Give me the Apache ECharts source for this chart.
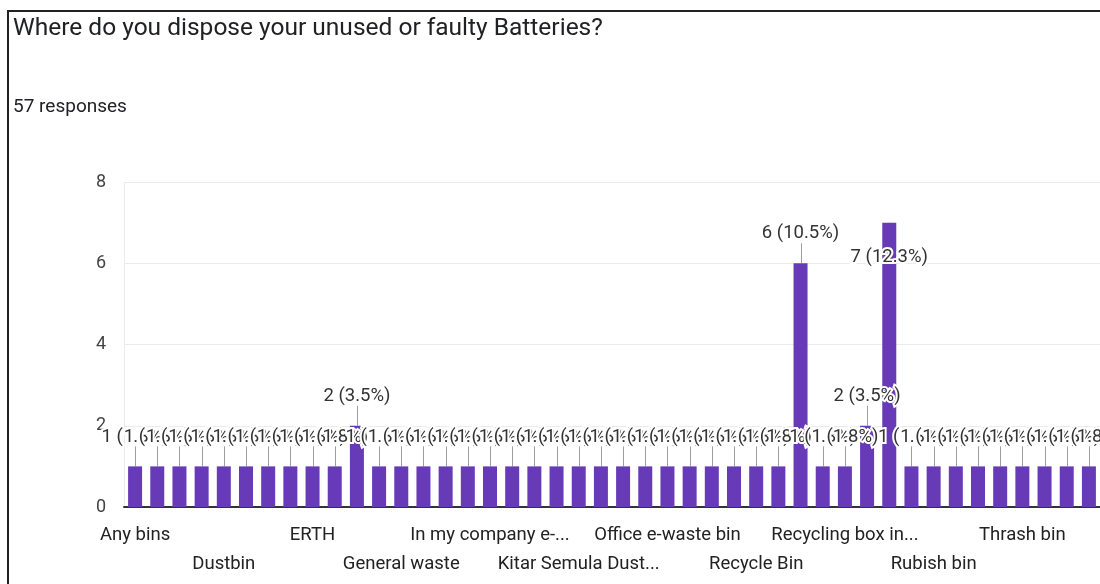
<!DOCTYPE html>
<html>
<head>
<meta charset="utf-8">
<script src="https://cdn.jsdelivr.net/npm/echarts@6/dist/echarts.min.js"></script>
<style>
html,body{margin:0;padding:0;background:#fff;}
#chart{width:1100px;height:584px;}
</style>
</head>
<body>
<div id="chart"></div>
<script>
const TITLE = 'Where do you dispose your unused or faulty Batteries?';
const SUBTITLE = '57 responses';
const TOTAL = 57;

const categories = [
  'Any bins', 'At home', 'Battery collection box', 'Bin',
  'Dustbin', 'Dustbin at home', 'E-waste bin', 'E-waste collection',
  'ERTH', 'Garbage', 'General bin', 'General rubbish',
  'General waste', 'Home', 'Home bin', 'House bin',
  'In my company e-...', 'In the bin', 'Keep at home', 'Kitar semula',
  'Kitar Semula Dust...', 'Normal bin', 'Normal dustbin', 'Not sure',
  'Office e-waste bin', 'Office recycle bin', 'Public bin', 'Recycle',
  'Recycle Bin', 'Recycle centre', 'Recycling bin', 'Recycling bin at...',
  'Recycling box in...', 'Recycling centre', 'Rubbish bin', 'Rubbish bin at home',
  'Rubish bin', 'Sampah', 'Store at home', 'Thrash',
  'Thrash bin', 'Trash bin', 'Trash can', 'Waste bin'
];

const counts = [
  1, 1, 1, 1,
  1, 1, 1, 1,
  1, 1, 2, 1,
  1, 1, 1, 1,
  1, 1, 1, 1,
  1, 1, 1, 1,
  1, 1, 1, 1,
  1, 1, 6, 1,
  1, 2, 7, 1,
  1, 1, 1, 1,
  1, 1, 1, 1
];

const yTicks = [0, 2, 4, 6, 8];

// label of this bar sits inside the bar (collision avoidance in the source)
const LABEL_INSIDE_INDEX = 34;

const FONT = 'Roboto, "Noto Sans", sans-serif';
const PURPLE = '#673ab7';

function labelText(v) {
  return v + ' (' + (v / TOTAL * 100).toFixed(1) + '%)';
}

const barData = counts.map((v, i) => {
  if (i === LABEL_INSIDE_INDEX) {
    return { value: v, label: { position: 'insideTop', distance: 25 } };
  }
  return v;
});

const chart = echarts.init(document.getElementById('chart'), null, { renderer: 'canvas' });

chart.setOption({
  animation: false,
  backgroundColor: '#fff',
  title: [
    {
      text: TITLE, left: 8, top: 11,
      textStyle: { fontFamily: FONT, fontSize: 24.5, fontWeight: 'normal', color: '#202124' }
    },
    {
      text: SUBTITLE, left: 8, top: 93,
      textStyle: { fontFamily: FONT, fontSize: 19, fontWeight: 'normal', color: '#202124' }
    }
  ],
  graphic: [
    { type: 'line', shape: { x1: 8, y1: 11, x2: 1100, y2: 11 }, style: { stroke: '#222', lineWidth: 2 }, z: 100 },
    { type: 'line', shape: { x1: 8, y1: 10, x2: 8, y2: 584 }, style: { stroke: '#222', lineWidth: 2 }, z: 100 }
  ],
  grid: { left: 124, right: -4, top: 182, bottom: 77, containLabel: false },
  xAxis: {
    type: 'category',
    data: categories,
    axisTick: { show: false },
    axisLine: { show: true, lineStyle: { color: '#333', width: 2 } },
    axisLabel: {
      interval: 3,
      margin: 14,
      fontFamily: FONT,
      fontSize: 18.5,
      color: '#222',
      lineHeight: 29,
      hideOverlap: false,
      formatter: function (value, index) {
        return (index % 8 === 4) ? '\n' + value : value;
      }
    }
  },
  yAxis: {
    type: 'value',
    min: yTicks[0],
    max: yTicks[yTicks.length - 1],
    interval: 2,
    axisLine: { show: true, lineStyle: { color: '#ebebeb', width: 1 } },
    axisTick: { show: false },
    splitLine: { show: true, lineStyle: { color: '#ebebeb', width: 1 } },
    axisLabel: { margin: 18, fontFamily: FONT, fontSize: 18, color: '#444' }
  },
  series: [
    {
      type: 'bar',
      data: barData,
      barWidth: 14,
      itemStyle: { color: PURPLE },
      label: {
        show: true,
        position: 'top',
        distance: 20,
        fontFamily: FONT,
        fontSize: 18.5,
        color: '#333',
        textBorderColor: '#fff',
        textBorderWidth: 4,
        formatter: function (p) { return labelText(p.value); }
      },
      labelLayout: { hideOverlap: false }
    },
    {
      type: 'custom',
      silent: true,
      data: counts.map((v, i) => [i, v]),
      renderItem: function (params, api) {
        const i = api.value(0);
        const p = api.coord([i, api.value(1)]);
        const y2 = (i === LABEL_INSIDE_INDEX) ? p[1] + 22 : p[1] - 20;
        return {
          type: 'line',
          shape: { x1: Math.round(p[0]) + 0.5, y1: p[1], x2: Math.round(p[0]) + 0.5, y2: y2 },
          style: { stroke: '#9e9e9e', lineWidth: 1 }
        };
      },
      z: 2
    }
  ]
});
</script>
</body>
</html>
